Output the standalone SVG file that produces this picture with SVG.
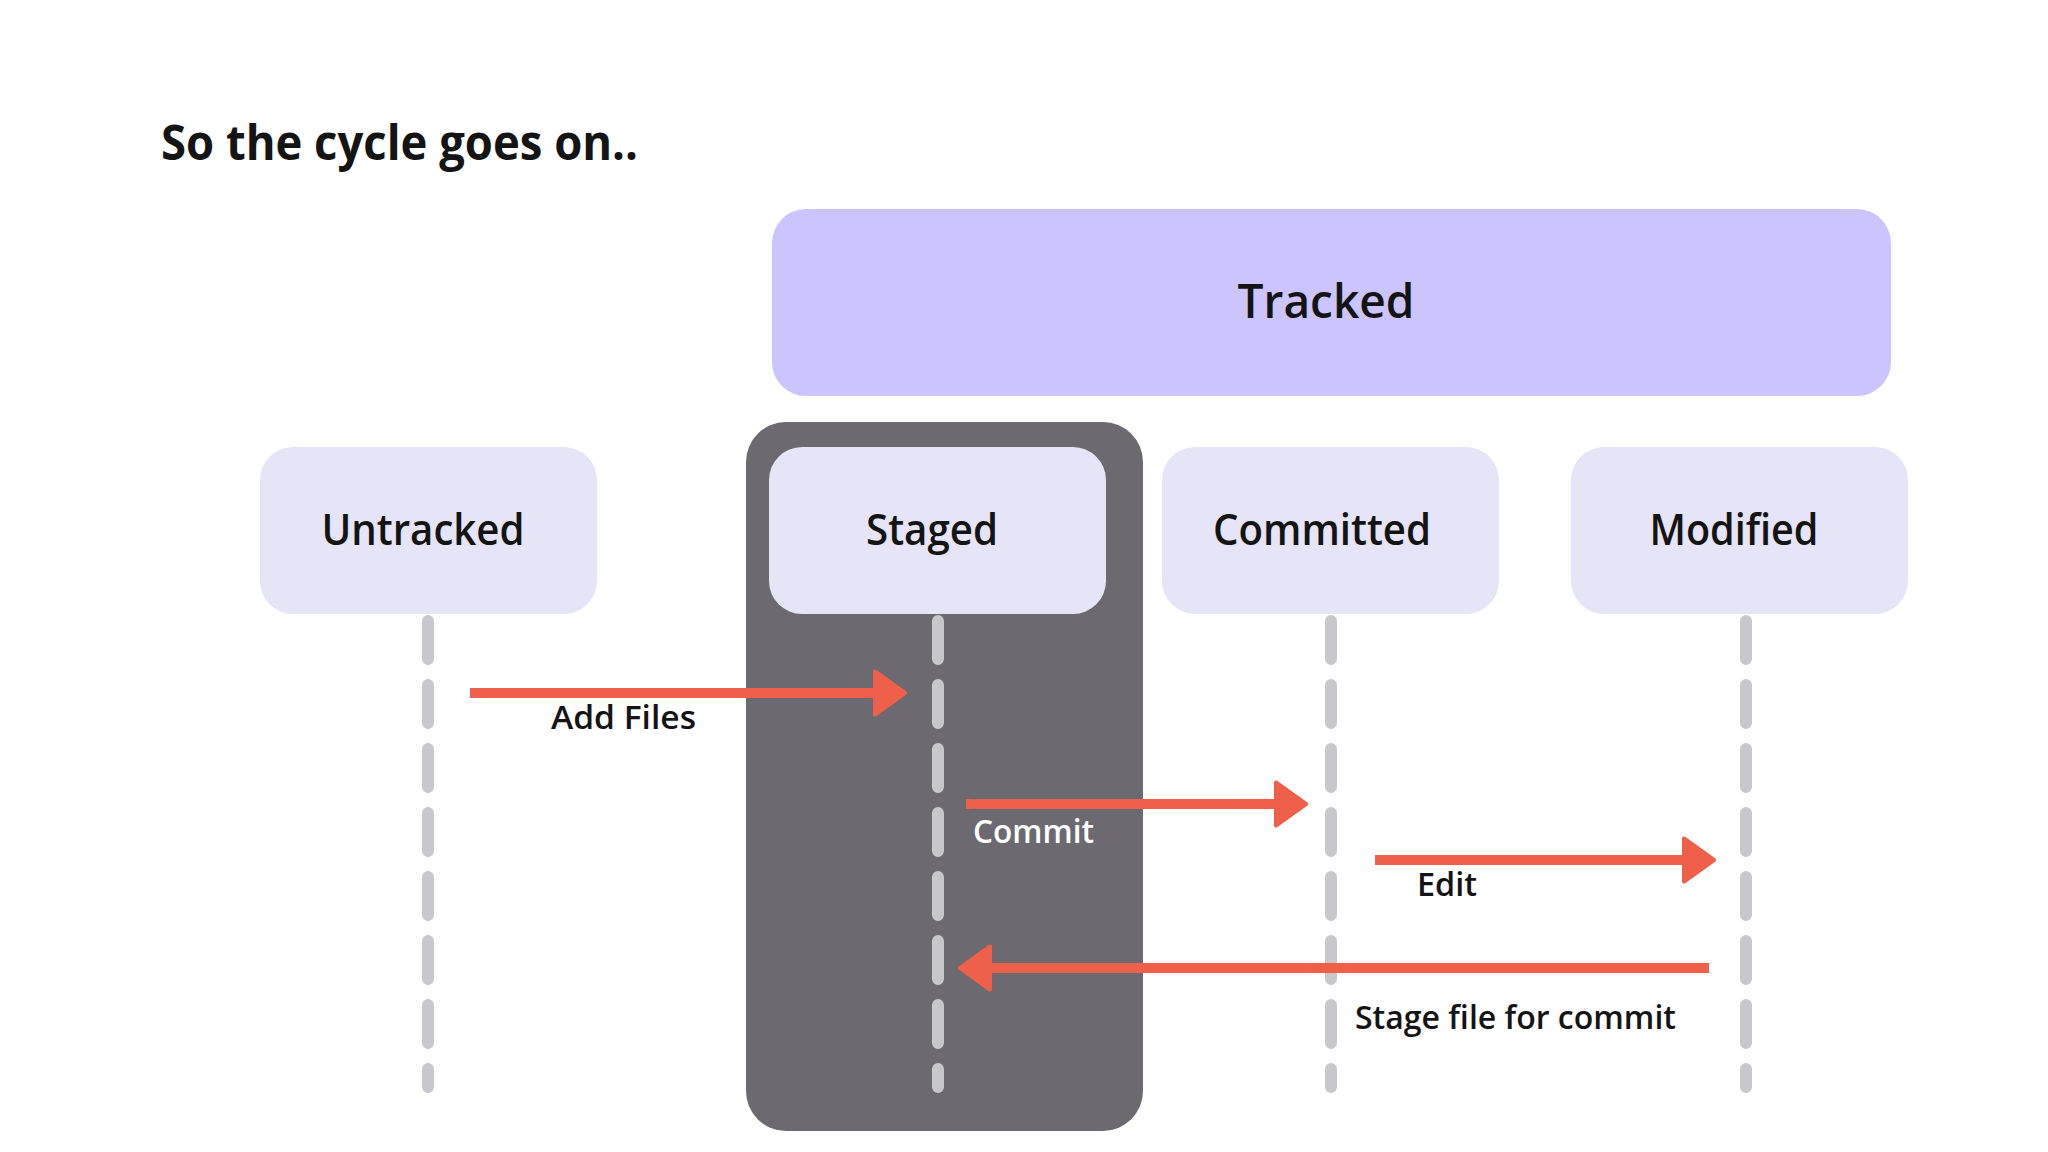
<svg xmlns="http://www.w3.org/2000/svg" width="2048" height="1152" viewBox="0 0 2048 1152">
<style>
.lbl{font-family:"Open Sans","DejaVu Sans",sans-serif;font-weight:600;fill:#141414}
.node{fill:#E6E4F7}
.life{stroke:#C8C7CB;stroke-width:12;stroke-dasharray:38 26;stroke-linecap:round;fill:none}
.arr{stroke:#EF604A;stroke-width:10;fill:none;marker-end:url(#head)}
</style>
<defs>
<marker id="head" viewBox="0 0 36 50" markerWidth="36" markerHeight="50" markerUnits="userSpaceOnUse" refX="13" refY="25" orient="auto">
<path d="M3,3.5 L33,25 L3,46.5 Z" fill="#EF604A" stroke="#EF604A" stroke-width="4" stroke-linejoin="round"/>
</marker>
</defs>
<rect width="2048" height="1152" fill="#FFFFFF"/>
<text class="lbl" x="161" y="160" font-size="48" font-weight="700" style="font-weight:700" textLength="477" lengthAdjust="spacingAndGlyphs">So the cycle goes on..</text>
<g id="tracked">
<rect x="772" y="209" width="1119" height="187" rx="34" fill="#CCC4FC"/>
<text class="lbl" x="1326" y="318" font-size="47" text-anchor="middle" textLength="177" lengthAdjust="spacingAndGlyphs">Tracked</text>
</g>
<g id="staged-area">
<rect x="746" y="422" width="397" height="709" rx="40" fill="#6C6971"/>
</g>
<g id="untracked">
<rect class="node" x="260" y="447" width="337" height="167" rx="33"/>
<text class="lbl" x="423" y="545" font-size="43" text-anchor="middle" textLength="203" lengthAdjust="spacingAndGlyphs">Untracked</text>
</g>
<g id="staged">
<rect class="node" x="769" y="447" width="337" height="167" rx="33"/>
<text class="lbl" x="932" y="545" font-size="43" text-anchor="middle" textLength="132" lengthAdjust="spacingAndGlyphs">Staged</text>
</g>
<g id="committed">
<rect class="node" x="1162" y="447" width="337" height="167" rx="33"/>
<text class="lbl" x="1322" y="545" font-size="43" text-anchor="middle" textLength="218" lengthAdjust="spacingAndGlyphs">Committed</text>
</g>
<g id="modified">
<rect class="node" x="1571" y="447" width="337" height="167" rx="33"/>
<text class="lbl" x="1734" y="545" font-size="43" text-anchor="middle" textLength="169" lengthAdjust="spacingAndGlyphs">Modified</text>
</g>
<g id="connectors">
<line class="life" x1="428" y1="621" x2="428" y2="1087"/>
<line class="life" x1="938" y1="621" x2="938" y2="1087"/>
<line class="life" x1="1331" y1="621" x2="1331" y2="1087"/>
<line class="life" x1="1746" y1="621" x2="1746" y2="1087"/>
<line class="arr" x1="470" y1="693" x2="885" y2="693"/>
<line class="arr" x1="966" y1="804" x2="1286" y2="804"/>
<line class="arr" x1="1375" y1="860" x2="1694" y2="860"/>
<line class="arr" x1="1709" y1="968" x2="980" y2="968"/>
<text class="lbl" x="551" y="729" font-size="33" textLength="145" lengthAdjust="spacingAndGlyphs">Add Files</text>
<text class="lbl" x="973" y="843" font-size="33" textLength="121" lengthAdjust="spacingAndGlyphs" style="fill:#FFFFFF">Commit</text>
<text class="lbl" x="1417" y="896" font-size="33" textLength="60" lengthAdjust="spacingAndGlyphs">Edit</text>
<text class="lbl" x="1355" y="1029" font-size="33" textLength="321" lengthAdjust="spacingAndGlyphs">Stage file for commit</text>
</g>
</svg>
